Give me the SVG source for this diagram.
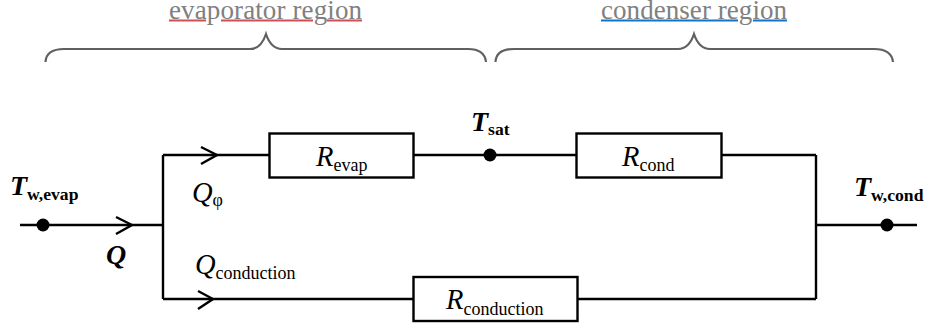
<svg xmlns="http://www.w3.org/2000/svg" width="925" height="331" viewBox="0 0 925 331">
<style>
text{font-family:"Liberation Serif","Times New Roman",serif;fill:#000}
.w{fill:none;stroke:#000;stroke-width:2.4}
.box{fill:#fff;stroke:#000;stroke-width:2.4}
.arrow{fill:none;stroke:#000;stroke-width:2.4}
.brace{fill:none;stroke:#606060;stroke-width:2.2}
.region{font-size:27px;fill:#808080}
.sym{font-size:28.500px;font-style:italic}
.sub{font-size:18px;font-style:normal}
.bsym{font-size:28px;font-style:italic;font-weight:bold}
.bsub{font-size:17.600px;font-style:normal;font-weight:bold}
.dot{fill:#000}
.red{stroke:#cf5052;stroke-width:2.2}
.blue{stroke:#0f75c9;stroke-width:2.2}
</style>
<rect width="925" height="331" fill="#fff"/>
<g id="connectors">
<path class="w" d="M20 225H163M163 155H270M163 299H414M163 155V299M414 155H577M722 155H816M577 299H816M816 155V299M816 225H917"/>
<path class="arrow" d="M116 217L132 225L116 234M201 147L217 155L201 164M198 291L213 299L198 309"/>
</g>
<g id="evaporator-region">
<path class="brace" d="M45.500 62C46 53 53 49 64 49H250C258 49 263 43 266 34C269 43 274 49 282 49H468C479 49 485 53 486 62"/>
<text class="region" x="169" y="18.500" textLength="193">evaporator region</text>
<path class="red" d="M169 20.500H206M221 20.500H313M327 20.500H362"/>
</g>
<g id="condenser-region">
<path class="brace" d="M495.500 62C496 53 503 49 514 49H678C686 49 691 43 694 34C697 43 702 49 710 49H874C885 49 892 53 893 62"/>
<text class="region" x="601" y="18.500" textLength="186">condenser region</text>
<path class="blue" d="M601 20.500H738M753 20.500H787"/>
</g>
<g id="r-evap">
<rect class="box" x="269.500" y="133.500" width="144" height="44"/>
<text class="sym" x="316" y="166">R<tspan class="sub" dy="5">evap</tspan></text>
</g>
<g id="r-cond">
<rect class="box" x="576.500" y="133.500" width="145" height="44"/>
<text class="sym" x="622" y="166">R<tspan class="sub" dy="5">cond</tspan></text>
</g>
<g id="r-conduction">
<rect class="box" x="413.500" y="277" width="164" height="44"/>
<text class="sym" x="446" y="309">R<tspan class="sub" dy="6">conduction</tspan></text>
</g>
<g id="t-w-evap">
<circle class="dot" cx="43" cy="225" r="6.500"/>
<text class="bsym" x="10" y="195">T<tspan class="bsub" dy="5">w,evap</tspan></text>
</g>
<g id="t-sat">
<circle class="dot" cx="490" cy="155" r="6.500"/>
<text class="bsym" x="471" y="131">T<tspan class="bsub" dy="4">sat</tspan></text>
</g>
<g id="t-w-cond">
<circle class="dot" cx="887" cy="225" r="6.500"/>
<text class="bsym" x="854" y="196">T<tspan class="bsub" dy="5">w,cond</tspan></text>
</g>
<g id="q">
<text class="bsym" x="106" y="264">Q</text>
</g>
<g id="q-phi">
<text class="sym" x="192" y="202">Q<tspan class="sub" dy="4">φ</tspan></text>
</g>
<g id="q-conduction">
<text class="sym" x="195" y="274">Q<tspan class="sub" dy="5">conduction</tspan></text>
</g>
</svg>
